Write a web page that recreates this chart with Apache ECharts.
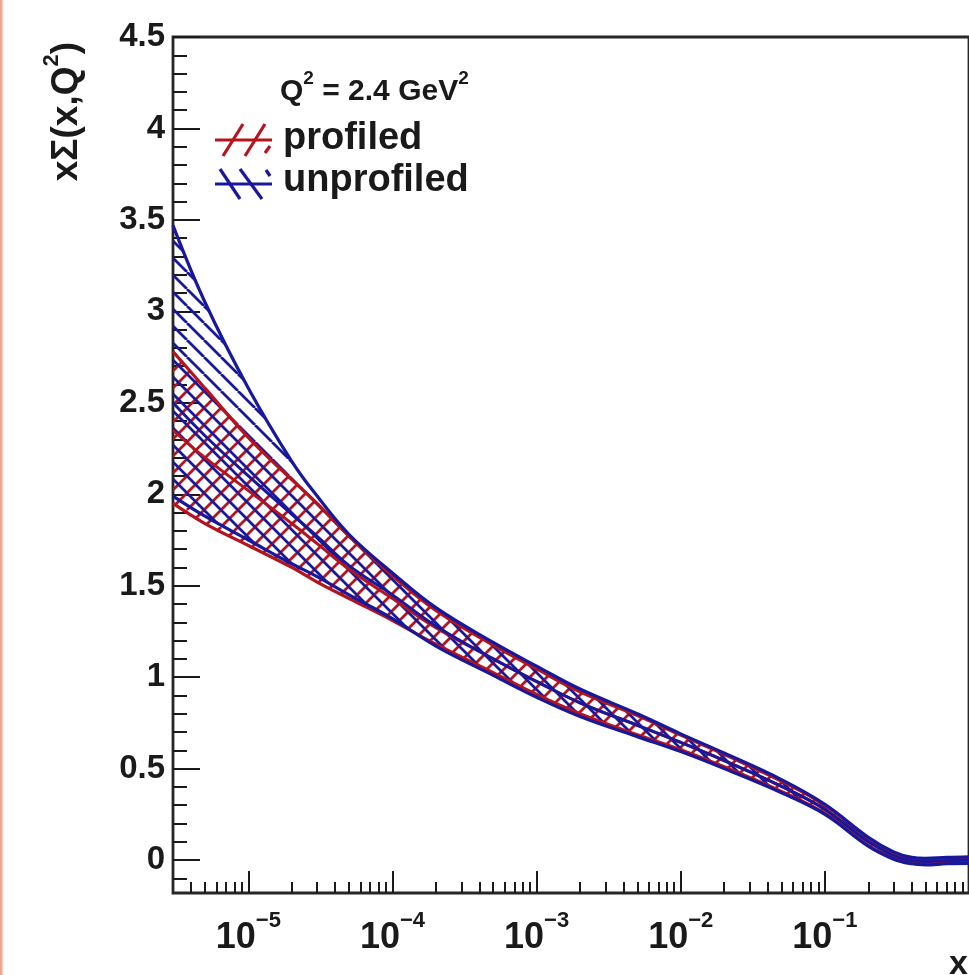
<!DOCTYPE html>
<html>
<head>
<meta charset="utf-8">
<script src="https://cdn.jsdelivr.net/npm/echarts@6/dist/echarts.min.js"></script>
<style>
html,body{margin:0;padding:0;background:#ffffff;}
#c{width:969px;height:975px;}
</style>
</head>
<body>
<div id="c"></div>
<script>
// ---------------- data ----------------
const xValues = [3e-6, 5e-6, 1e-5, 2e-5, 3e-5, 5e-5, 1e-4, 2e-4, 5e-4, 1e-3, 2e-3, 5e-3, 1e-2, 2e-2, 5e-2, 0.1, 0.2, 0.3, 0.4, 0.5, 0.7, 1.0];

const unprofiledUpper   = [3.47, 3.05, 2.58, 2.18, 1.99, 1.78, 1.57, 1.38, 1.19, 1.06, 0.935, 0.80, 0.69, 0.585, 0.44, 0.305, 0.125, 0.045, 0.015, 0.010, 0.015, 0.018];
const unprofiledLower   = [1.99, 1.88, 1.75, 1.62, 1.55, 1.45, 1.32, 1.17, 1.01, 0.89, 0.785, 0.675, 0.593, 0.50, 0.368, 0.25, 0.076, 0.005, -0.020, -0.026, -0.020, -0.018];
const unprofiledCentral = [2.50, 2.32, 2.10, 1.89, 1.77, 1.61, 1.45, 1.28, 1.10, 0.977, 0.86, 0.737, 0.643, 0.544, 0.403, 0.277, 0.101, 0.025, -0.003, -0.008, -0.003, 0.0];

const profiledUpper   = [2.78, 2.58, 2.31, 2.08, 1.95, 1.77, 1.555, 1.365, 1.175, 1.045, 0.92, 0.79, 0.683, 0.578, 0.431, 0.299, 0.121, 0.041, 0.011, 0.006, 0.011, 0.014];
const profiledLower   = [1.95, 1.84, 1.72, 1.60, 1.52, 1.43, 1.31, 1.18, 1.025, 0.905, 0.80, 0.685, 0.603, 0.51, 0.375, 0.255, 0.081, 0.009, -0.017, -0.022, -0.017, -0.014];
const profiledCentral = [2.35, 2.20, 2.02, 1.84, 1.73, 1.59, 1.43, 1.27, 1.10, 0.975, 0.86, 0.737, 0.643, 0.544, 0.403, 0.277, 0.101, 0.025, -0.003, -0.008, -0.003, 0.0];

const yTickLabels = [0, 0.5, 1, 1.5, 2, 2.5, 3, 3.5, 4, 4.5];
const xTickLabels = [1e-5, 1e-4, 1e-3, 1e-2, 1e-1];
const seriesNames = ['profiled', 'unprofiled'];
const yTitle = ['xΣ(x,Q', '2', ')'];
const q2Text = ['Q', '2', ' = 2.4 GeV', '2'];
const xTitle = 'x';

// ---------------- ticks ----------------
const yMinorTicks = [];
for (let i = -1; i <= 44; i++) { if (i % 5 !== 0) yMinorTicks.push(i / 10); }
const xMinorTicks = [];
for (let e = -6; e <= -1; e++) {
  for (let k = 2; k <= 9; k++) {
    const v = +(k * Math.pow(10, e)).toPrecision(3);
    if (v > 3e-6 && v < 1) xMinorTicks.push(v);
  }
}

// ---------------- styles ----------------
const RED = '#b3141e';
const BLUE = '#18189c';
const INK = '#1a1a1a';
const FONT = '"Liberation Sans", Arial, Helvetica, sans-serif';

function hatch(color, dir) {
  const s = 17;
  const c = document.createElement('canvas');
  c.width = s; c.height = s;
  const g = c.getContext('2d');
  g.strokeStyle = color;
  g.lineWidth = 2.8;
  g.beginPath();
  [-s, 0, s].forEach(function (k) {
    if (dir === '/') { g.moveTo(k, s); g.lineTo(k + s, 0); }
    else { g.moveTo(k, 0); g.lineTo(k + s, s); }
  });
  g.stroke();
  return { image: c, repeat: 'repeat' };
}

// rows are [y, x] so that the stack runs on the y column (column 0)
function rows(ys) { return xValues.map(function (x, i) { return [ys[i], x]; }); }
function spread(u, l) { return xValues.map(function (x, i) { return [+(u[i] - l[i]).toFixed(4), x]; }); }

function band(name, upper, lower, central, color, dir) {
  const common = {
    type: 'line', smooth: 0.4, showSymbol: false, symbol: 'none', clip: true,
    silent: true, animation: false, stackStrategy: 'all',
    encode: { x: 1, y: 0 }
  };
  return [
    Object.assign({}, common, {
      name: name + ' low', stack: name, data: rows(lower),
      lineStyle: { color: color, width: 3.2 }
    }),
    Object.assign({}, common, {
      name: name, stack: name, data: spread(upper, lower),
      lineStyle: { color: color, width: 3.2 },
      areaStyle: { color: hatch(color, dir), opacity: 1 }
    }),
    Object.assign({}, common, {
      name: name + ' central', data: rows(central),
      lineStyle: { color: color, width: 3 }
    })
  ];
}

const series = [].concat(
  band(seriesNames[0], profiledUpper, profiledLower, profiledCentral, RED, '/'),
  band(seriesNames[1], unprofiledUpper, unprofiledLower, unprofiledCentral, BLUE, '\\')
);

function supLabel(v) {
  const e = Math.round(Math.log10(v));
  return '{b|10}{s|' + (e < 0 ? '\u2212' + (-e) : e) + '}';
}

const legendLines = [
  // red icon
  [215, 140, 272, 140, RED], [223, 156, 243, 124, RED], [245, 156, 265, 124, RED], [265, 153, 270, 146, RED],
  // blue icon
  [215, 184, 272, 184, BLUE], [220, 169, 240, 199, BLUE], [240, 169, 262, 199, BLUE], [266, 170, 270, 176, BLUE]
];

const option = {
  backgroundColor: '#ffffff',
  animation: false,
  grid: {
    left: 173, top: 37, right: -26, bottom: 82,
    show: true, borderColor: '#262626', borderWidth: 2.8, backgroundColor: 'transparent'
  },
  xAxis: [
    {
      type: 'log', logBase: 10, min: 3e-6, max: 1, position: 'bottom',
      axisLine: { show: false, onZero: false },
      splitLine: { show: false },
      axisTick: { show: true, inside: true, length: 22, customValues: xTickLabels, lineStyle: { color: INK, width: 2 } },
      axisLabel: {
        show: true, customValues: xTickLabels, margin: 17,
        formatter: supLabel,
        rich: {
          b: { fontSize: 36, fontWeight: 'bold', fontFamily: FONT, color: INK, lineHeight: 46, verticalAlign: 'bottom' },
          s: { fontSize: 22, fontWeight: 'bold', fontFamily: FONT, color: INK, lineHeight: 22, verticalAlign: 'top' }
        }
      }
    },
    {
      type: 'log', logBase: 10, min: 3e-6, max: 1, position: 'bottom',
      axisLine: { show: false, onZero: false },
      splitLine: { show: false },
      axisLabel: { show: false },
      axisTick: { show: true, inside: true, length: 11, customValues: xMinorTicks, lineStyle: { color: INK, width: 2 } }
    }
  ],
  yAxis: [
    {
      type: 'value', min: -0.18, max: 4.5, position: 'left',
      axisLine: { show: false, onZero: false },
      splitLine: { show: false },
      axisTick: { show: true, inside: true, length: 27, customValues: yTickLabels, lineStyle: { color: INK, width: 2 } },
      axisLabel: {
        show: true, customValues: yTickLabels, margin: 8,
        fontSize: 33, fontWeight: 'bold', fontFamily: FONT, color: INK,
        formatter: function (v) { return String(v); }
      }
    },
    {
      type: 'value', min: -0.18, max: 4.5, position: 'left',
      axisLine: { show: false, onZero: false },
      splitLine: { show: false },
      axisLabel: { show: false },
      axisTick: { show: true, inside: true, length: 14, customValues: yMinorTicks, lineStyle: { color: INK, width: 2 } }
    }
  ],
  series: series,
  graphic: [
    { type: 'rect', left: 0, top: 0, shape: { x: 0, y: 0, width: 2.5, height: 975 }, style: { fill: '#f3a48c' }, silent: true },
    {
      type: 'text', x: 63, y: 42, rotation: Math.PI / 2, silent: true,
      style: {
        text: '{a|' + yTitle[0] + '}{s|' + yTitle[1] + '}{a|' + yTitle[2] + '}',
        align: 'right', verticalAlign: 'middle',
        rich: {
          a: { fontSize: 37, fontWeight: 'bold', fontFamily: FONT, fill: INK, lineHeight: 44, verticalAlign: 'bottom' },
          s: { fontSize: 22, fontWeight: 'bold', fontFamily: FONT, fill: INK, lineHeight: 22, verticalAlign: 'top' }
        }
      }
    },
    {
      type: 'text', x: 280, y: 88, silent: true,
      style: {
        text: '{a|' + q2Text[0] + '}{s|' + q2Text[1] + '}{a|' + q2Text[2] + '}{s|' + q2Text[3] + '}',
        align: 'left', verticalAlign: 'middle',
        rich: {
          a: { fontSize: 30, fontWeight: 'bold', fontFamily: FONT, fill: INK, lineHeight: 38, verticalAlign: 'bottom' },
          s: { fontSize: 19, fontWeight: 'bold', fontFamily: FONT, fill: INK, lineHeight: 19, verticalAlign: 'top' }
        }
      }
    },
    {
      type: 'text', x: 283, y: 139, silent: true,
      style: { text: seriesNames[0], fontSize: 38, fontWeight: 'bold', fontFamily: FONT, fill: INK, align: 'left', verticalAlign: 'middle' }
    },
    {
      type: 'text', x: 283, y: 181, silent: true,
      style: { text: seriesNames[1], fontSize: 38, fontWeight: 'bold', fontFamily: FONT, fill: INK, align: 'left', verticalAlign: 'middle' }
    },
    {
      type: 'text', x: 949, y: 948, silent: true,
      style: { text: xTitle, fontSize: 34, fontWeight: 'bold', fontFamily: FONT, fill: INK, align: 'left', verticalAlign: 'top' }
    }
  ].concat(legendLines.map(function (l) {
    return { type: 'line', silent: true, shape: { x1: l[0], y1: l[1], x2: l[2], y2: l[3] }, style: { stroke: l[4], lineWidth: 3.2 } };
  }))
};

const chart = echarts.init(document.getElementById('c'), null, { renderer: 'canvas', width: 969, height: 975 });
chart.setOption(option);
</script>
</body>
</html>
